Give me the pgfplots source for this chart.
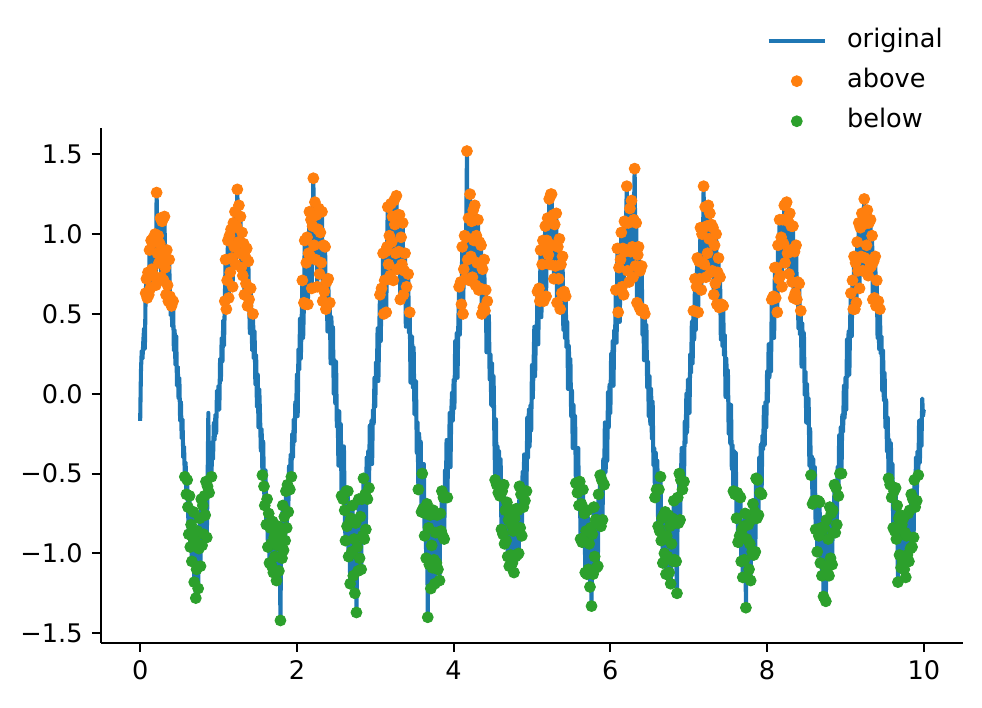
\documentclass[border=0pt]{standalone}
\usepackage{fontspec}
\setmainfont{DejaVu Sans}
\usepackage{pgfplots}
\usepackage{pgfplotstable}
\pgfplotsset{compat=1.18}
\definecolor{tabblue}{HTML}{1F77B4}
\definecolor{taborange}{HTML}{FF7F0E}
\definecolor{tabgreen}{HTML}{2CA02C}
\pgfplotsset{
  lineleg/.style={legend image code/.code={\draw[##1] (0pt,0pt) -- (25pt,0pt);}},
  markleg/.style={legend image code/.code={\draw[##1] plot coordinates {(12.5pt,0pt)};}},
}
\pgfplotstableread[row sep=\\]{
x y\\
0.00 -0.17\\0.01 0.14\\0.02 0.27\\0.03 0.22\\0.04 0.33\\0.05 0.41\\0.06 0.28\\0.07 0.63\\0.08 0.72\\0.09 0.60\\
0.10 0.76\\0.11 0.62\\0.12 0.90\\0.13 0.66\\0.14 0.96\\0.15 0.78\\0.16 0.97\\0.17 0.74\\0.18 0.95\\0.19 1.00\\
0.20 0.68\\0.21 1.26\\0.22 0.88\\0.23 0.99\\0.24 0.82\\0.25 0.94\\0.26 1.10\\0.27 0.73\\0.28 1.08\\0.29 0.86\\
0.30 0.71\\0.31 1.11\\0.32 0.79\\0.33 0.62\\0.34 0.90\\0.35 0.68\\0.36 0.58\\0.37 0.84\\0.38 0.61\\0.39 0.49\\
0.40 0.55\\0.41 0.42\\0.42 0.58\\0.43 0.27\\0.44 0.40\\0.45 0.18\\0.46 0.36\\0.47 0.05\\0.48 0.17\\0.49 -0.03\\
0.50 0.10\\0.51 -0.17\\0.52 -0.05\\0.53 -0.28\\0.54 -0.16\\0.55 -0.40\\0.56 -0.33\\0.57 -0.52\\0.58 -0.43\\0.59 -0.63\\
0.60 -0.54\\0.61 -0.71\\0.62 -0.88\\0.63 -0.64\\0.64 -0.96\\0.65 -0.82\\0.66 -1.05\\0.67 -0.90\\0.68 -0.74\\0.69 -1.18\\
0.70 -0.92\\0.71 -1.28\\0.72 -1.10\\0.73 -0.86\\0.74 -1.22\\0.75 -0.97\\0.76 -0.78\\0.77 -1.08\\0.78 -0.66\\0.79 -0.95\\
0.80 -0.70\\0.81 -0.88\\0.82 -0.64\\0.83 -0.76\\0.84 -0.55\\0.85 -0.90\\0.86 -0.58\\0.87 -0.12\\0.88 -0.62\\0.89 -0.45\\
0.90 -0.33\\0.91 -0.52\\0.92 -0.30\\0.93 -0.41\\0.94 -0.18\\0.95 -0.29\\0.96 -0.13\\0.97 -0.25\\0.98 0.02\\0.99 -0.08\\
1.00 0.05\\1.01 -0.10\\1.02 0.22\\1.03 0.08\\1.04 0.35\\1.05 0.20\\1.06 0.46\\1.07 0.30\\1.08 0.58\\1.09 0.84\\
1.10 0.53\\1.11 0.71\\1.12 0.96\\1.13 0.60\\1.14 0.99\\1.15 0.76\\1.16 1.03\\1.17 0.85\\1.18 0.67\\1.19 1.07\\
1.20 0.92\\1.21 1.14\\1.22 0.81\\1.23 1.05\\1.24 1.28\\1.25 0.95\\1.26 1.18\\1.27 0.88\\1.28 1.11\\1.29 0.79\\
1.30 1.01\\1.31 0.74\\1.32 0.94\\1.33 0.62\\1.34 0.86\\1.35 0.69\\1.36 0.91\\1.37 0.55\\1.38 0.83\\1.39 0.59\\
1.40 0.38\\1.41 0.66\\1.42 0.45\\1.43 0.27\\1.44 0.50\\1.45 0.22\\1.46 0.39\\1.47 0.06\\1.48 0.24\\1.49 -0.08\\
1.50 0.12\\1.51 -0.21\\1.52 0.03\\1.53 -0.14\\1.54 -0.36\\1.55 -0.22\\1.56 -0.51\\1.57 -0.30\\1.58 -0.58\\1.59 -0.70\\
1.60 -0.48\\1.61 -0.82\\1.62 -0.66\\1.63 -0.96\\1.64 -0.75\\1.65 -1.06\\1.66 -0.84\\1.67 -0.94\\1.68 -1.08\\1.69 -0.80\\
1.70 -1.12\\1.71 -0.90\\1.72 -1.02\\1.73 -0.87\\1.74 -1.17\\1.75 -0.95\\1.76 -0.83\\1.77 -1.11\\1.78 -0.92\\1.79 -1.42\\
1.80 -0.88\\1.81 -1.03\\1.82 -0.70\\1.83 -0.98\\1.84 -0.77\\1.85 -0.92\\1.86 -0.61\\1.87 -0.84\\1.88 -0.57\\1.89 -0.74\\
1.90 -0.45\\1.91 -0.60\\1.92 -0.38\\1.93 -0.52\\1.94 -0.25\\1.95 -0.40\\1.96 -0.16\\1.97 -0.30\\1.98 -0.05\\1.99 -0.14\\
2.00 0.12\\2.01 -0.14\\2.02 0.28\\2.03 0.15\\2.04 0.47\\2.05 0.22\\2.06 0.43\\2.07 0.71\\2.08 0.35\\2.09 0.57\\
2.10 0.96\\2.11 0.56\\2.12 0.82\\2.13 0.98\\2.14 0.56\\2.15 0.88\\2.16 1.14\\2.17 0.86\\2.18 1.09\\2.19 0.66\\
2.20 1.05\\2.21 1.35\\2.22 0.93\\2.23 1.20\\2.24 0.84\\2.25 1.12\\2.26 0.67\\2.27 1.03\\2.28 1.16\\2.29 0.75\\
2.30 1.01\\2.31 0.82\\2.32 1.14\\2.33 0.58\\2.34 0.93\\2.35 0.64\\2.36 0.92\\2.37 0.53\\2.38 0.70\\2.39 0.39\\
2.40 0.72\\2.41 0.48\\2.42 0.57\\2.43 0.19\\2.44 0.48\\2.45 0.28\\2.46 0.42\\2.47 0.00\\2.48 0.21\\2.49 -0.06\\
2.50 0.20\\2.51 -0.21\\2.52 -0.10\\2.53 -0.45\\2.54 -0.11\\2.55 -0.39\\2.56 -0.19\\2.57 -0.64\\2.58 -0.43\\2.59 -0.66\\
2.60 -0.33\\2.61 -0.73\\2.62 -0.92\\2.63 -0.61\\2.64 -0.83\\2.65 -0.61\\2.66 -1.02\\2.67 -0.81\\2.68 -1.19\\2.69 -0.78\\
2.70 -0.99\\2.71 -0.70\\2.72 -1.14\\2.73 -0.91\\2.74 -1.25\\2.75 -0.81\\2.76 -1.37\\2.77 -0.96\\2.78 -1.11\\2.79 -0.66\\
2.80 -1.03\\2.81 -0.77\\2.82 -1.10\\2.83 -0.66\\2.84 -0.89\\2.85 -0.53\\2.86 -0.91\\2.87 -0.63\\2.88 -0.85\\2.89 -0.40\\
2.90 -0.66\\2.91 -0.36\\2.92 -0.59\\2.93 -0.20\\2.94 -0.39\\2.95 -0.17\\2.96 -0.44\\2.97 -0.10\\2.98 -0.19\\2.99 0.10\\
3.00 -0.08\\3.01 0.20\\3.02 0.10\\3.03 0.41\\3.04 0.08\\3.05 0.37\\3.06 0.62\\3.07 0.33\\3.08 0.66\\3.09 0.49\\
3.10 0.88\\3.11 0.50\\3.12 0.71\\3.13 0.89\\3.14 0.51\\3.15 0.92\\3.16 1.17\\3.17 0.81\\3.18 0.99\\3.19 0.74\\
3.20 1.19\\3.21 0.95\\3.22 1.11\\3.23 0.71\\3.24 1.21\\3.25 1.06\\3.26 0.88\\3.27 1.24\\3.28 0.78\\3.29 1.12\\
3.30 0.89\\3.31 1.12\\3.32 0.59\\3.33 0.98\\3.34 0.81\\3.35 1.07\\3.36 0.62\\3.37 0.77\\3.38 0.88\\3.39 0.42\\
3.40 0.67\\3.41 0.43\\3.42 0.75\\3.43 0.38\\3.44 0.51\\3.45 0.07\\3.46 0.27\\3.47 0.36\\3.48 0.04\\3.49 0.29\\
3.50 -0.13\\3.51 -0.01\\3.52 0.08\\3.53 -0.37\\3.54 -0.18\\3.55 -0.60\\3.56 -0.25\\3.57 -0.46\\3.58 -0.30\\3.59 -0.74\\
3.60 -0.50\\3.61 -0.72\\3.62 -0.44\\3.63 -0.89\\3.64 -0.75\\3.65 -1.03\\3.66 -0.69\\3.67 -1.40\\3.68 -0.84\\3.69 -1.07\\
3.70 -0.76\\3.71 -1.22\\3.72 -0.95\\3.73 -1.09\\3.74 -0.73\\3.75 -1.04\\3.76 -1.19\\3.77 -0.87\\3.78 -1.06\\3.79 -0.76\\
3.80 -1.10\\3.81 -0.87\\3.82 -1.17\\3.83 -0.75\\3.84 -0.86\\3.85 -0.61\\3.86 -0.89\\3.87 -0.65\\3.88 -0.91\\3.89 -0.48\\
3.90 -0.65\\3.91 -0.29\\3.92 -0.65\\3.93 -0.39\\3.94 -0.46\\3.95 -0.12\\3.96 -0.46\\3.97 -0.12\\3.98 0.01\\3.99 -0.17\\
4.00 0.09\\4.01 -0.09\\4.02 0.33\\4.03 0.15\\4.04 0.38\\4.05 0.10\\4.06 0.44\\4.07 0.67\\4.08 0.37\\4.09 0.70\\
4.10 0.56\\4.11 0.92\\4.12 0.50\\4.13 0.78\\4.14 0.99\\4.15 0.72\\4.16 0.98\\4.17 1.52\\4.18 0.84\\4.19 1.10\\
4.20 0.71\\4.21 1.25\\4.22 0.86\\4.23 1.08\\4.24 0.73\\4.25 1.15\\4.26 0.96\\4.27 1.18\\4.28 0.68\\4.29 0.99\\
4.30 0.82\\4.31 1.09\\4.32 0.65\\4.33 0.95\\4.34 0.66\\4.35 0.93\\4.36 0.50\\4.37 0.78\\4.38 0.54\\4.39 0.84\\
4.40 0.52\\4.41 0.65\\4.42 0.26\\4.43 0.58\\4.44 0.27\\4.45 0.49\\4.46 0.09\\4.47 0.25\\4.48 -0.07\\4.49 0.19\\
4.50 -0.08\\4.51 0.11\\4.52 -0.27\\4.53 -0.54\\4.54 -0.16\\4.55 -0.57\\4.56 -0.33\\4.57 -0.62\\4.58 -0.36\\4.59 -0.64\\
4.60 -0.41\\4.61 -0.85\\4.62 -0.61\\4.63 -0.88\\4.64 -0.57\\4.65 -0.94\\4.66 -0.73\\4.67 -0.92\\4.68 -0.68\\4.69 -1.02\\
4.70 -0.79\\4.71 -1.08\\4.72 -0.73\\4.73 -1.01\\4.74 -0.82\\4.75 -1.06\\4.76 -0.86\\4.77 -1.12\\4.78 -0.78\\4.79 -1.02\\
4.80 -0.72\\4.81 -1.01\\4.82 -0.73\\4.83 -1.00\\4.84 -0.58\\4.85 -0.84\\4.86 -0.63\\4.87 -0.89\\4.88 -0.49\\4.89 -0.71\\
4.90 -0.38\\4.91 -0.67\\4.92 -0.38\\4.93 -0.61\\4.94 -0.15\\4.95 -0.40\\4.96 -0.10\\4.97 -0.33\\4.98 -0.07\\4.99 -0.23\\
5.00 0.18\\5.01 -0.03\\5.02 0.17\\5.03 0.42\\5.04 0.11\\5.05 0.41\\5.06 0.31\\5.07 0.64\\5.08 0.31\\5.09 0.66\\
5.10 0.58\\5.11 0.90\\5.12 0.48\\5.13 0.81\\5.14 0.96\\5.15 0.58\\5.16 0.90\\5.17 1.05\\5.18 0.61\\5.19 0.96\\
5.20 1.10\\5.21 0.87\\5.22 1.22\\5.23 0.81\\5.24 1.25\\5.25 1.25\\5.26 0.93\\5.27 1.12\\5.28 0.72\\5.29 1.06\\
5.30 0.80\\5.31 1.13\\5.32 0.57\\5.33 0.92\\5.34 0.72\\5.35 0.97\\5.36 0.53\\5.37 0.81\\5.38 0.63\\5.39 0.86\\
5.40 0.40\\5.41 0.64\\5.42 0.35\\5.43 0.61\\5.44 0.29\\5.45 0.45\\5.46 0.03\\5.47 0.30\\5.48 0.10\\5.49 0.22\\
5.50 -0.14\\5.51 0.02\\5.52 -0.34\\5.53 -0.07\\5.54 -0.30\\5.55 -0.14\\5.56 -0.56\\5.57 -0.37\\5.58 -0.62\\5.59 -0.34\\
5.60 -0.70\\5.61 -0.55\\5.62 -0.91\\5.63 -0.69\\5.64 -0.93\\5.65 -0.60\\5.66 -0.92\\5.67 -0.75\\5.68 -1.12\\5.69 -0.86\\
5.70 -1.13\\5.71 -0.73\\5.72 -1.10\\5.73 -0.94\\5.74 -1.21\\5.75 -0.84\\5.76 -1.33\\5.77 -0.88\\5.78 -1.13\\5.79 -0.71\\
5.80 -1.02\\5.81 -0.79\\5.82 -1.09\\5.83 -0.79\\5.84 -1.08\\5.85 -0.63\\5.86 -0.81\\5.87 -0.51\\5.88 -0.83\\5.89 -0.54\\
5.90 -0.79\\5.91 -0.41\\5.92 -0.57\\5.93 -0.18\\5.94 -0.49\\5.95 -0.25\\5.96 -0.42\\5.97 0.01\\5.98 -0.21\\5.99 0.06\\
6.00 -0.12\\6.01 0.25\\6.02 0.06\\6.03 0.33\\6.04 0.05\\6.05 0.40\\6.06 0.34\\6.07 0.65\\6.08 0.32\\6.09 0.91\\
6.10 0.51\\6.11 0.79\\6.12 0.45\\6.13 0.84\\6.14 1.01\\6.15 0.67\\6.16 0.91\\6.17 0.62\\6.18 1.08\\6.19 0.89\\
6.20 1.07\\6.21 1.30\\6.22 0.77\\6.23 1.07\\6.24 0.70\\6.25 1.16\\6.26 0.89\\6.27 1.21\\6.28 0.92\\6.29 0.73\\
6.30 1.09\\6.31 1.41\\6.32 0.80\\6.33 1.07\\6.34 0.57\\6.35 0.87\\6.36 0.92\\6.37 0.54\\6.38 0.77\\6.39 0.52\\
6.40 0.80\\6.41 0.37\\6.42 0.53\\6.43 0.21\\6.44 0.50\\6.45 0.25\\6.46 0.43\\6.47 0.04\\6.48 0.20\\6.49 -0.14\\
6.50 0.11\\6.51 -0.19\\6.52 0.03\\6.53 -0.28\\6.54 -0.05\\6.55 -0.45\\6.56 -0.34\\6.57 -0.65\\6.58 -0.37\\6.59 -0.60\\
6.60 -0.42\\6.61 -0.83\\6.62 -0.60\\6.63 -0.86\\6.64 -0.52\\6.65 -0.92\\6.66 -0.78\\6.67 -1.06\\6.68 -0.76\\6.69 -1.00\\
6.70 -0.74\\6.71 -1.13\\6.72 -0.89\\6.73 -1.02\\6.74 -0.76\\6.75 -1.12\\6.76 -0.83\\6.77 -1.19\\6.78 -0.94\\6.79 -0.78\\
6.80 -1.05\\6.81 -0.67\\6.82 -1.04\\6.83 -0.81\\6.84 -1.05\\6.85 -1.25\\6.86 -0.65\\6.87 -0.81\\6.88 -0.50\\6.89 -0.79\\
6.90 -0.54\\6.91 -0.34\\6.92 -0.60\\6.93 -0.34\\6.94 -0.55\\6.95 -0.17\\6.96 -0.31\\6.97 0.00\\6.98 -0.24\\6.99 0.09\\
7.00 0.06\\7.01 -0.12\\7.02 0.25\\7.03 0.13\\7.04 0.45\\7.05 0.19\\7.06 0.52\\7.07 0.34\\7.08 0.72\\7.09 0.40\\
7.10 0.67\\7.11 0.85\\7.12 0.51\\7.13 0.83\\7.14 0.72\\7.15 1.04\\7.16 0.65\\7.17 1.00\\7.18 0.82\\7.19 1.30\\
7.20 0.81\\7.21 1.17\\7.22 0.73\\7.23 1.05\\7.24 0.88\\7.25 1.18\\7.26 0.97\\7.27 1.13\\7.28 0.76\\7.29 1.06\\
7.30 0.77\\7.31 1.04\\7.32 0.62\\7.33 0.93\\7.34 0.69\\7.35 1.00\\7.36 0.56\\7.37 0.76\\7.38 0.85\\7.39 0.54\\
7.40 0.73\\7.41 0.34\\7.42 0.56\\7.43 0.30\\7.44 0.55\\7.45 0.24\\7.46 0.37\\7.47 -0.02\\7.48 0.22\\7.49 0.02\\
7.50 0.15\\7.51 -0.25\\7.52 -0.06\\7.53 -0.31\\7.54 -0.07\\7.55 -0.47\\7.56 -0.32\\7.57 -0.61\\7.58 -0.36\\7.59 -0.63\\
7.60 -0.37\\7.61 -0.78\\7.62 -0.62\\7.63 -0.93\\7.64 -0.64\\7.65 -0.89\\7.66 -0.65\\7.67 -1.05\\7.68 -0.85\\7.69 -1.15\\
7.70 -0.83\\7.71 -1.04\\7.72 -0.75\\7.73 -1.34\\7.74 -0.91\\7.75 -1.15\\7.76 -0.82\\7.77 -1.10\\7.78 -0.94\\7.79 -1.17\\
7.80 -0.79\\7.81 -0.99\\7.82 -0.69\\7.83 -1.01\\7.84 -0.74\\7.85 -0.99\\7.86 -0.53\\7.87 -0.78\\7.88 -0.54\\7.89 -0.76\\
7.90 -0.40\\7.91 -0.62\\7.92 -0.32\\7.93 -0.63\\7.94 -0.26\\7.95 -0.35\\7.96 -0.08\\7.97 -0.32\\7.98 -0.05\\7.99 -0.21\\
8.00 0.14\\8.01 -0.05\\8.02 0.31\\8.03 0.10\\8.04 0.32\\8.05 0.14\\8.06 0.59\\8.07 0.37\\8.08 0.61\\8.09 0.35\\
8.10 0.79\\8.11 0.60\\8.12 0.79\\8.13 0.51\\8.14 0.93\\8.15 0.72\\8.16 1.09\\8.17 0.74\\8.18 0.98\\8.19 0.67\\
8.20 1.09\\8.21 0.94\\8.22 1.18\\8.23 0.82\\8.24 1.19\\8.25 1.20\\8.26 0.88\\8.27 1.08\\8.28 0.75\\8.29 1.13\\
8.30 0.90\\8.31 1.05\\8.32 0.70\\8.33 1.05\\8.34 0.60\\8.35 0.89\\8.36 0.63\\8.37 0.93\\8.38 0.59\\8.39 0.70\\
8.40 0.41\\8.41 0.69\\8.42 0.37\\8.43 0.52\\8.44 0.17\\8.45 0.44\\8.46 0.18\\8.47 0.38\\8.48 -0.01\\8.49 0.14\\
8.50 -0.18\\8.51 0.06\\8.52 -0.19\\8.53 -0.03\\8.54 -0.45\\8.55 -0.22\\8.56 -0.51\\8.57 -0.39\\8.58 -0.69\\8.59 -0.41\\
8.60 -0.67\\8.61 -0.46\\8.62 -0.85\\8.63 -0.67\\8.64 -0.99\\8.65 -0.67\\8.66 -0.89\\8.67 -0.68\\8.68 -1.06\\8.69 -0.84\\
8.70 -1.14\\8.71 -0.85\\8.72 -1.27\\8.73 -0.84\\8.74 -1.08\\8.75 -1.30\\8.76 -0.79\\8.77 -1.12\\8.78 -0.91\\8.79 -1.14\\
8.80 -0.71\\8.81 -1.03\\8.82 -0.75\\8.83 -1.07\\8.84 -0.73\\8.85 -0.87\\8.86 -0.57\\8.87 -0.87\\8.88 -0.59\\8.89 -0.82\\
8.90 -0.46\\8.91 -0.64\\8.92 -0.26\\8.93 -0.50\\8.94 -0.21\\8.95 -0.50\\8.96 -0.13\\8.97 -0.24\\8.98 0.05\\8.99 -0.15\\
9.00 0.10\\9.01 -0.10\\9.02 0.34\\9.03 0.11\\9.04 0.39\\9.05 0.12\\9.06 0.46\\9.07 0.63\\9.08 0.36\\9.09 0.71\\
9.10 0.53\\9.11 0.86\\9.12 0.53\\9.13 0.82\\9.14 0.57\\9.15 0.95\\9.16 0.77\\9.17 1.07\\9.18 0.66\\9.19 1.04\\
9.20 0.86\\9.21 1.13\\9.22 0.77\\9.23 1.06\\9.24 1.22\\9.25 0.85\\9.26 1.10\\9.27 0.93\\9.28 1.15\\9.29 0.74\\
9.30 1.07\\9.31 0.79\\9.32 1.09\\9.33 0.80\\9.34 0.99\\9.35 0.59\\9.36 0.83\\9.37 0.60\\9.38 0.86\\9.39 0.55\\
9.40 0.71\\9.41 0.35\\9.42 0.58\\9.43 0.28\\9.44 0.53\\9.45 0.25\\9.46 0.36\\9.47 0.02\\9.48 0.27\\9.49 -0.04\\
9.50 0.13\\9.51 -0.21\\9.52 -0.04\\9.53 -0.36\\9.54 -0.15\\9.55 -0.53\\9.56 -0.29\\9.57 -0.57\\9.58 -0.31\\9.59 -0.65\\
9.60 -0.44\\9.61 -0.84\\9.62 -0.61\\9.63 -0.86\\9.64 -0.59\\9.65 -0.91\\9.66 -0.70\\9.67 -1.18\\9.68 -0.78\\9.69 -1.01\\
9.70 -0.76\\9.71 -1.09\\9.72 -0.82\\9.73 -1.05\\9.74 -0.78\\9.75 -1.10\\9.76 -0.87\\9.77 -1.15\\9.78 -0.89\\9.79 -1.01\\
9.80 -0.75\\9.81 -1.05\\9.82 -0.73\\9.83 -0.97\\9.84 -0.63\\9.85 -0.96\\9.86 -0.66\\9.87 -0.90\\9.88 -0.54\\9.89 -0.71\\
9.90 -0.40\\9.91 -0.67\\9.92 -0.36\\9.93 -0.51\\9.94 -0.17\\9.95 -0.43\\9.96 -0.16\\9.97 -0.33\\9.98 -0.03\\9.99 -0.14\\
10.00 -0.10\\
}\data

\begin{document}
\begin{tikzpicture}
\path[use as bounding box] (-44.6pt,-28.7pt) rectangle (389.1pt,283.9pt);
\begin{axis}[
  scale only axis, width=380.7pt, height=227.4pt,
  xmin=-0.5, xmax=10.5, ymin=-1.56, ymax=1.665,
  axis x line*=bottom, axis y line*=left,
  axis line style={line width=0.9pt,-},
  tick align=outside, major tick length=4pt,
  tick style={line width=0.9pt, black},
  xtick={0,2,4,6,8,10}, xticklabels={0,2,4,6,8,10},
  ytick={-1.5,-1,-0.5,0,0.5,1,1.5},
  yticklabels={−1.5,−1.0,−0.5,0.0,0.5,1.0,1.5},
  ticklabel style={font=\fontsize{11.3}{13}\selectfont},
  yticklabel style={xshift=-0.6pt},
  xticklabel style={yshift=-0.5pt},
  legend cell align=left,
  legend style={at={(axis description cs:0.977,1.0)}, anchor=south east,
    yshift=-2.5pt,
    draw=none, fill=none, font=\fontsize{11.3}{13}\selectfont,
    inner sep=0pt, row sep=7.2pt,
    nodes={inner sep=0pt, text height=8pt, text depth=2.5pt},
    /tikz/every odd column/.append style={column sep=8.8pt}},
]
\addplot[tabblue, line width=1.8pt, line join=round, lineleg] table {\data};
\addlegendentry{original}
\addplot[only marks, mark=*, mark size=2.4pt, color=taborange,
  mark options={draw=taborange, fill=taborange},
  restrict y to domain=0.5:10, markleg] table {\data};
\addlegendentry{above}
\addplot[only marks, mark=*, mark size=2.4pt, color=tabgreen,
  mark options={draw=tabgreen, fill=tabgreen},
  restrict y to domain=-10:-0.5, markleg] table {\data};
\addlegendentry{below}
\end{axis}
\end{tikzpicture}
\end{document}
